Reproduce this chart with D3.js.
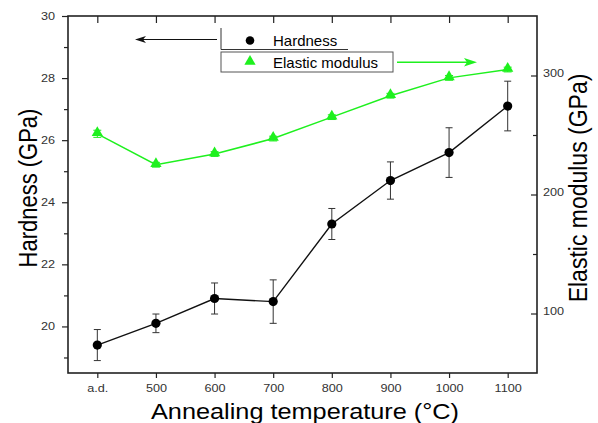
<!DOCTYPE html>
<html>
<head>
<meta charset="utf-8">
<script src="https://cdn.jsdelivr.net/npm/d3@7"></script>
<style>
  body { margin: 0; background: #fff; }
  svg { display: block; font-family: "Liberation Sans", Arial, sans-serif; }
</style>
</head>
<body>
<div id="chart"></div>
<script>
// data
const categories = ["a.d.", "500", "600", "700", "800", "900", "1000", "1100"];
const hardness = [19.4, 20.1, 20.9, 20.8, 23.3, 24.7, 25.6, 27.1];
const hardnessErr = [0.5, 0.3, 0.5, 0.7, 0.5, 0.6, 0.8, 0.8];
const modulus = [251, 225, 234, 247, 265, 283, 298, 305];
const modulusErr = [3, 2, 2, 2, 2, 2, 2, 2];
const leftTicks = [20, 22, 24, 26, 28, 30];
const leftMinor = [19, 21, 23, 25, 27, 29];
const rightTicks = [100, 200, 300];
const rightMinor = [150, 250];

const width = 598, height = 423;
const margin = { top: 16, right: 61, bottom: 50, left: 68 };
const green = "#1ef01e";

const svg = d3.select("#chart").append("svg")
    .attr("width", width)
    .attr("height", height);

const x = d3.scaleLinear()
    .domain([-0.5, categories.length - 0.5])
    .range([margin.left, width - margin.right]);

const yL = d3.scaleLinear()
    .domain([18.5, 30])
    .range([height - margin.bottom, margin.top]);

const yR = d3.scaleLinear()
    .domain([50, 350])
    .range([height - margin.bottom, margin.top]);

const idx = categories.map((d, i) => i);

// the original figure is a bit stretched sideways, so labels get a wider x scale
function styleAxis(g) {
    g.select(".domain").remove();
    g.selectAll(".tick line").attr("stroke", "#222").attr("stroke-width", 1.2);
    g.selectAll(".tick text")
        .attr("fill", "#333")
        .style("font-size", "11px")
        .style("font-family", "Liberation Sans, Arial, sans-serif")
        .each(function() {
            const t = d3.select(this);
            const tx = +t.attr("x") || 0;
            t.attr("x", 0).attr("transform", `translate(${tx},0) scale(1.15,1)`);
        });
}

// bottom axis
svg.append("g")
    .attr("transform", `translate(0,${height - margin.bottom})`)
    .call(d3.axisBottom(x).tickValues(idx).tickFormat(i => categories[i]).tickSize(5).tickPadding(6))
    .call(g => styleAxis(g));

// top axis (ticks only, pointing inward)
svg.append("g")
    .attr("transform", `translate(0,${margin.top})`)
    .call(d3.axisTop(x).tickValues(idx).tickFormat("").tickSizeInner(-7).tickSizeOuter(0))
    .call(g => styleAxis(g));

// left axis
svg.append("g")
    .attr("transform", `translate(${margin.left},0)`)
    .call(d3.axisLeft(yL).tickValues(leftTicks).tickSize(6).tickPadding(7))
    .call(g => styleAxis(g));

svg.append("g")
    .attr("transform", `translate(${margin.left},0)`)
    .call(d3.axisLeft(yL).tickValues(leftMinor).tickFormat("").tickSize(4))
    .call(g => styleAxis(g));

// right axis (ticks inward)
svg.append("g")
    .attr("transform", `translate(${width - margin.right},0)`)
    .call(d3.axisRight(yR).tickValues(rightTicks).tickSizeInner(-6).tickSizeOuter(0).tickPadding(6))
    .call(g => styleAxis(g))
    .call(g => g.selectAll(".tick text").attr("dy", "0.1em"));

svg.append("g")
    .attr("transform", `translate(${width - margin.right},0)`)
    .call(d3.axisRight(yR).tickValues(rightMinor).tickFormat("").tickSizeInner(-4).tickSizeOuter(0))
    .call(g => styleAxis(g));

// frame
svg.append("rect")
    .attr("x", margin.left)
    .attr("y", margin.top)
    .attr("width", width - margin.left - margin.right)
    .attr("height", height - margin.top - margin.bottom)
    .attr("fill", "none")
    .attr("stroke", "#222")
    .attr("stroke-width", 1.6);

// axis titles
svg.append("text")
    .attr("transform", "translate(36.5,188) rotate(-90) scale(1,1.2)")
    .attr("text-anchor", "middle")
    .style("font-size", "22px")
    .text("Hardness (GPa)");

svg.append("text")
    .attr("transform", "translate(587,188) rotate(-90) scale(1,1.12)")
    .attr("text-anchor", "middle")
    .style("font-size", "23px")
    .text("Elastic modulus (GPa)");

svg.append("text")
    .attr("transform", "translate(305,419) scale(1.15,1)")
    .attr("text-anchor", "middle")
    .style("font-size", "22px")
    .text("Annealing temperature (°C)");

// elastic modulus series
const modLine = d3.line().x(i => x(i)).y(i => yR(modulus[i]));
svg.append("path")
    .attr("d", modLine(idx))
    .attr("fill", "none")
    .attr("stroke", green)
    .attr("stroke-width", 1.5);

const modErr = svg.append("g").attr("stroke", green).attr("stroke-width", 1);
idx.forEach(i => {
    const y0 = yR(modulus[i] - modulusErr[i]), y1 = yR(modulus[i] + modulusErr[i]);
    modErr.append("line").attr("x1", x(i)).attr("x2", x(i)).attr("y1", y0).attr("y2", y1);
    modErr.append("line").attr("x1", x(i) - 4).attr("x2", x(i) + 4).attr("y1", y0).attr("y2", y0);
    modErr.append("line").attr("x1", x(i) - 4).attr("x2", x(i) + 4).attr("y1", y1).attr("y2", y1);
});

const tri = d3.symbol().type(d3.symbolTriangle).size(55);
svg.selectAll(".mod")
    .data(idx)
    .enter()
    .append("path")
    .attr("class", "mod")
    .attr("d", tri)
    .attr("transform", i => `translate(${x(i)},${yR(modulus[i]) - 1})`)
    .attr("fill", green);

// hardness series
const hardLine = d3.line().x(i => x(i)).y(i => yL(hardness[i]));
svg.append("path")
    .attr("d", hardLine(idx))
    .attr("fill", "none")
    .attr("stroke", "#111")
    .attr("stroke-width", 1.4);

const hardErr = svg.append("g").attr("stroke", "#333").attr("stroke-width", 1);
idx.forEach(i => {
    const y0 = yL(hardness[i] - hardnessErr[i]), y1 = yL(hardness[i] + hardnessErr[i]);
    hardErr.append("line").attr("x1", x(i)).attr("x2", x(i)).attr("y1", y0).attr("y2", y1);
    hardErr.append("line").attr("x1", x(i) - 3.5).attr("x2", x(i) + 3.5).attr("y1", y0).attr("y2", y0);
    hardErr.append("line").attr("x1", x(i) - 3.5).attr("x2", x(i) + 3.5).attr("y1", y1).attr("y2", y1);
});

svg.selectAll(".hard")
    .data(idx)
    .enter()
    .append("circle")
    .attr("class", "hard")
    .attr("cx", i => x(i))
    .attr("cy", i => yL(hardness[i]))
    .attr("r", 4.6)
    .attr("fill", "#000");

// legend
const legend = svg.append("g");
legend.append("path")
    .attr("d", "M221,28V49.5H348")
    .attr("fill", "none")
    .attr("stroke", "#333")
    .attr("stroke-width", 1);
legend.append("rect")
    .attr("x", 221).attr("y", 52)
    .attr("width", 172).attr("height", 20)
    .attr("fill", "#fff")
    .attr("stroke", "#555")
    .attr("stroke-width", 1);
legend.append("circle")
    .attr("cx", 250).attr("cy", 40.5).attr("r", 4.3).attr("fill", "#000");
legend.append("path")
    .attr("d", tri)
    .attr("transform", "translate(250,61.5)")
    .attr("fill", green);
legend.append("text")
    .attr("x", 273).attr("y", 46)
    .style("font-size", "15px")
    .text("Hardness");
legend.append("text")
    .attr("x", 273).attr("y", 67.5)
    .style("font-size", "15px")
    .text("Elastic modulus");

// arrows pointing at the matching axis
svg.append("line")
    .attr("x1", 217).attr("x2", 140).attr("y1", 39.5).attr("y2", 39.5)
    .attr("stroke", "#111").attr("stroke-width", 1.2);
svg.append("path")
    .attr("d", "M135,39.5L146,36L143,39.5L146,43Z")
    .attr("fill", "#111");

svg.append("line")
    .attr("x1", 397).attr("x2", 470).attr("y1", 62.3).attr("y2", 62.3)
    .attr("stroke", green).attr("stroke-width", 1.5);
svg.append("path")
    .attr("d", "M477,62.3L464,58L467,62.3L464,66.5Z")
    .attr("fill", green);
</script>
</body>
</html>
